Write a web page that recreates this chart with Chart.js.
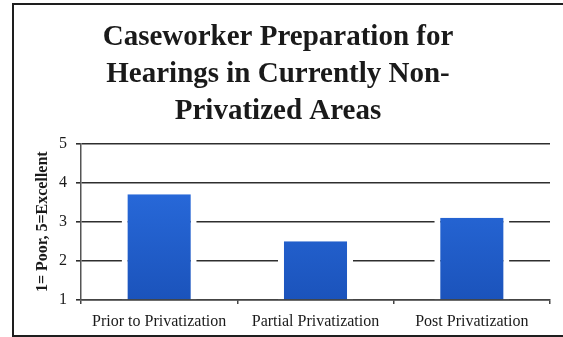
<!DOCTYPE html>
<html lang="en">
<head>
<meta charset="UTF-8">
<title>Caseworker Preparation for Hearings</title>
<script src="https://cdn.jsdelivr.net/npm/chart.js"></script>
<style>
    html, body { margin: 0; padding: 0; background: #fff; }
    #wrap { position: relative; width: 563px; height: 337px; overflow: hidden; }
    #frame {
        position: absolute; left: 12px; top: 3px; width: 560px; height: 330px;
        border: 2px solid #1e1e1e; border-right: none; pointer-events: none;
    }
</style>
</head>
<body>
<div id="wrap">
    <canvas id="prepChart" width="563" height="337"></canvas>
    <div id="frame"></div>
</div>

<script>
const categories = ['Prior to Privatization', 'Partial Privatization', 'Post Privatization'];
const ratings = [3.7, 2.5, 3.1];
const yTicks = [1, 2, 3, 4, 5];
const titleLines = ['Caseworker Preparation for', 'Hearings in Currently Non-', 'Privatized Areas'];
const yTitle = '1= Poor, 5=Excellent';

const serif = "'Liberation Serif', 'DejaVu Serif', serif";

// vertical blue fade for the bars
function barFill(ctx) {
    const area = ctx.chart.chartArea;
    if (!area) return '#2466d6';
    const g = ctx.chart.ctx.createLinearGradient(0, area.top, 0, area.bottom);
    g.addColorStop(0, '#2d72e6');
    g.addColorStop(1, '#1b53bb');
    return g;
}

new Chart(document.getElementById('prepChart'), {
    type: 'bar',
    data: {
        labels: categories,
        datasets: [{
            data: ratings,
            base: 1,
            backgroundColor: barFill,
            borderColor: '#ffffff',
            borderWidth: { left: 6, right: 6, top: 0, bottom: 0 },
            borderSkipped: false,
            barPercentage: 0.48,
            categoryPercentage: 1
        }]
    },
    options: {
        responsive: false,
        animation: false,
        layout: { padding: { left: 6, right: 13, top: 19, bottom: 0 } },
        plugins: {
            legend: { display: false },
            tooltip: { enabled: false },
            title: {
                display: true,
                text: titleLines,
                color: '#1a1a1a',
                font: { family: serif, size: 29, weight: 'bold', lineHeight: 1.28 },
                padding: { top: 0, bottom: 13 }
            }
        },
        scales: {
            x: {
                grid: {
                    offset: true,
                    drawOnChartArea: false,
                    drawTicks: true,
                    tickLength: 4,
                    color: '#444',
                    lineWidth: 1.5
                },
                border: { display: true, color: '#444', width: 1.5 },
                ticks: {
                    color: '#1a1a1a',
                    font: { family: serif, size: 16 },
                    padding: 8,
                    maxRotation: 0
                },
                afterFit: s => { s.height = 37; }
            },
            y: {
                min: 1,
                max: 5,
                afterBuildTicks: s => { s.ticks = yTicks.map(v => ({ value: v })); },
                grid: {
                    color: '#2e2e2e',
                    lineWidth: 1.6,
                    tickLength: 5
                },
                border: { display: true, color: '#555', width: 1.5 },
                ticks: {
                    color: '#1a1a1a',
                    font: { family: serif, size: 16 },
                    padding: 9
                },
                title: {
                    display: true,
                    text: yTitle,
                    color: '#1a1a1a',
                    font: { family: serif, size: 16, weight: 'bold' },
                    padding: { top: 27, bottom: 4 }
                },
                afterFit: s => { s.width = 75; }
            }
        }
    }
});
</script>
</body>
</html>
